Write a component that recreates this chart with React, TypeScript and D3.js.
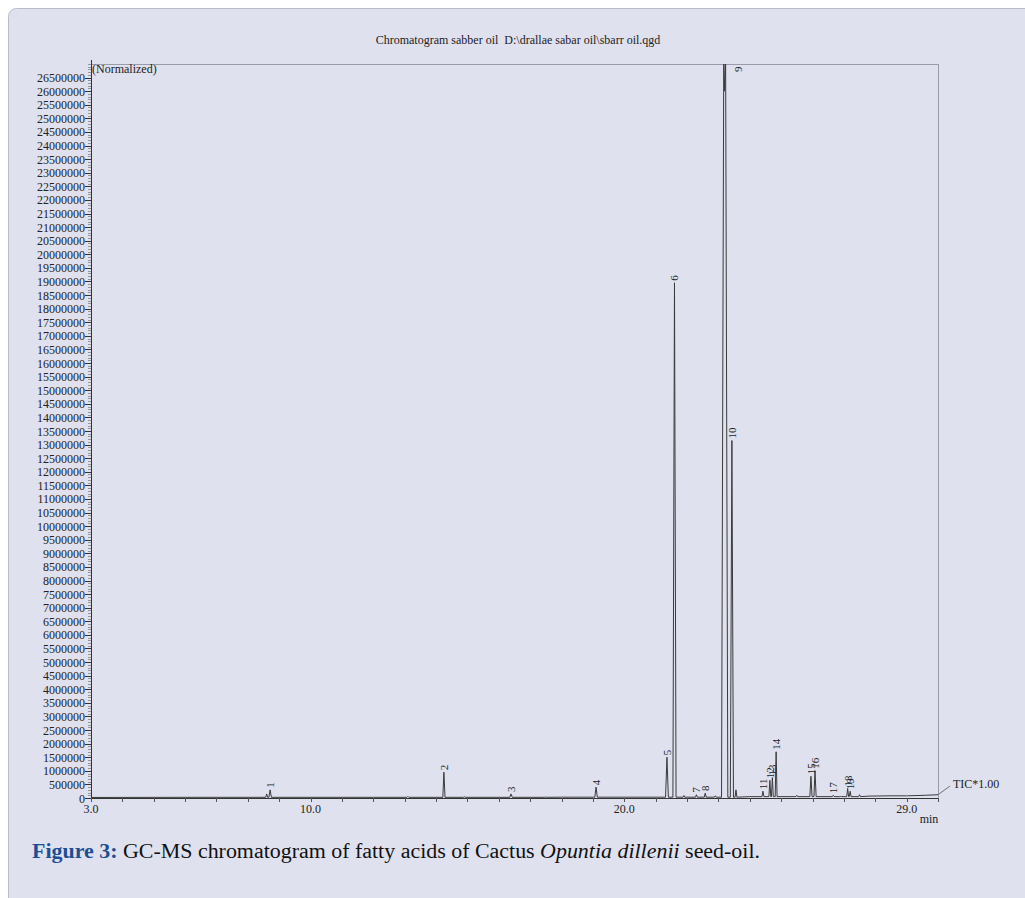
import React from "react";
import * as d3 from "d3";

const peakLabels = ["1","2","3","4","5","6","7","8","9","10","11","12","13","14","15","16","17","18","19"];
const peakTimes = [8.71,14.25,16.39,19.10,21.36,21.60,22.30,22.58,23.20,23.43,24.42,24.64,24.72,24.84,25.95,26.08,26.66,27.12,27.20];
const peakHeights = [300000,950000,150000,400000,1500000,18950000,120000,180000,27200000,13150000,250000,650000,750000,1700000,800000,1000000,100000,350000,250000];
const peakHalfWidths = [0.04,0.035,0.04,0.04,0.045,0.05,0.03,0.03,0.1,0.05,0.03,0.03,0.03,0.03,0.035,0.035,0.03,0.03,0.03];
// minor unlabeled bumps (time, height)
const minorTimes = [8.60,13.1,14.9,17.5,21.9,22.9,23.56,25.5,26.9,27.5,29.0];
const minorHeights = [150000,60000,50000,40000,90000,80000,300000,100000,60000,120000,80000];
const baseTimes = [3.0,6.0,12.0,18.0,24.0,27.8,28.5,29.6,30.0];
const baseValues = [20000,25000,25000,30000,50000,70000,80000,100000,120000];

const yTickValues = d3.range(0, 26500001, 500000);
const xLabelValues = [3.0, 10.0, 20.0, 29.0];
const xTickValues = d3.range(3, 31, 1);

export default function App() {
  const W = 1025, H = 898;
  const left = 91, right = 938, top = 64, bottom = 798;
  const x = d3.scaleLinear().domain([3, 30]).range([left, right]);
  const y = d3.scaleLinear().domain([0, 27000000]).range([bottom, top]);

  const pts: [number, number][] = [];
  baseTimes.forEach((t, i) => pts.push([t, baseValues[i]]));
  const baseAt = (t: number) => {
    const i = d3.bisectLeft(baseTimes, t);
    if (i <= 0) return baseValues[0];
    if (i >= baseTimes.length) return baseValues[baseValues.length - 1];
    return baseValues[i - 1];
  };
  peakTimes.forEach((t, i) => {
    const w = peakHalfWidths[i];
    const b = baseAt(t);
    pts.push([t - w, b]);
    if (i === 8) {
      pts.push([t - 0.03, peakHeights[i]]);
      pts.push([t + 0.0, 26000000]);
      pts.push([t + 0.03, peakHeights[i]]);
    } else {
      pts.push([t, peakHeights[i]]);
    }
    pts.push([t + w, b]);
  });
  minorTimes.forEach((t, i) => {
    const b = baseAt(t);
    pts.push([t - 0.03, b]);
    pts.push([t, minorHeights[i]]);
    pts.push([t + 0.03, b]);
  });
  pts.sort((a, b) => a[0] - b[0]);
  const line = d3.line<[number, number]>().x(d => x(d[0])).y(d => y(d[1]));

  const minorY = d3.range(0, 27000001, 100000);
  const serif = "Liberation Serif, Times New Roman, Times, DejaVu Serif, serif";

  return (
    <div style={{ position: "fixed", left: 0, top: 0 }}>
      <svg width={W} height={H} style={{ display: "block" }}>
        <rect x={0} y={0} width={W} height={H} fill="#ffffff" />
        <rect x={8.5} y={8.5} width={W + 20} height={H + 20} rx={8} fill="#dfe1ef" stroke="#b8bbcb" strokeWidth={1} />
        <text x={518} y={44} textAnchor="middle" style={{ fontFamily: serif }} fontSize={12} fill="#222">
          Chromatogram sabber oil{"\u00a0\u00a0"}D:\drallae sabar oil\sbarr oil.qgd
        </text>
        {/* frame */}
        <line x1={left} x2={right} y1={top + 0.5} y2={top + 0.5} stroke="#9a9cab" strokeWidth={1} />
        <line x1={right + 0.5} x2={right + 0.5} y1={top} y2={bottom} stroke="#9a9cab" strokeWidth={1} />
        {/* y axis */}
        <line x1={left + 0.5} x2={left + 0.5} y1={top - 4} y2={bottom} stroke="#333" strokeWidth={1} />
        {minorY.map(v => (
          <line key={"m" + v} x1={left - 3} x2={left} y1={Math.round(y(v)) + 0.5} y2={Math.round(y(v)) + 0.5} stroke="#777" strokeWidth={0.7} />
        ))}
        {yTickValues.map(v => (
          <g key={"y" + v}>
            <line x1={left - 6} x2={left} y1={Math.round(y(v)) + 0.5} y2={Math.round(y(v)) + 0.5} stroke="#333" strokeWidth={1} />
            <text x={left - 6} y={y(v) + 4.5} textAnchor="end" style={{ fontFamily: serif }} fontSize={12} fill="#222">{v}</text>
          </g>
        ))}
        <text x={left + 1} y={top + 9} style={{ fontFamily: serif }} fontSize={12} fill="#222">(Normalized)</text>
        {/* x axis */}
        <line x1={left} x2={right} y1={bottom + 0.5} y2={bottom + 0.5} stroke="#333" strokeWidth={1} />
        {xTickValues.map(v => (
          <line key={"x" + v} x1={Math.round(x(v)) + 0.5} x2={Math.round(x(v)) + 0.5} y1={bottom} y2={bottom + 4} stroke="#555" strokeWidth={1} />
        ))}
        {xLabelValues.map(v => (
          <text key={"xl" + v} x={x(v)} y={813} textAnchor="middle" style={{ fontFamily: serif }} fontSize={12} fill="#222">{v.toFixed(1)}</text>
        ))}
        <text x={929} y={823} textAnchor="middle" style={{ fontFamily: serif }} fontSize={12} fill="#222">min</text>
        {/* trace */}
        <defs>
          <clipPath id="plotClip">
            <rect x={left} y={top} width={right - left} height={bottom - top + 1} />
          </clipPath>
        </defs>
        <path d={line(pts) || ""} fill="none" stroke="#3a3a3a" strokeWidth={1} clipPath="url(#plotClip)" />
        {/* TIC label */}
        <line x1={right} y1={y(baseValues[baseValues.length - 1])} x2={950} y2={786} stroke="#555" strokeWidth={0.8} />
        <text x={953} y={788} style={{ fontFamily: serif }} fontSize={12} fill="#222">TIC*1.00</text>
        {/* peak labels */}
        {peakTimes.map((t, i) => {
          const clipped = peakHeights[i] > 27000000;
          const px = clipped ? x(t) + 17 : x(t) + 4;
          const py = clipped ? top + 8 : y(peakHeights[i]) - 2;
          return (
            <text key={"pl" + i} transform={`translate(${px},${py}) rotate(-90)`} style={{ fontFamily: serif }} fontSize={11} fill="#222">
              {peakLabels[i]}
            </text>
          );
        })}
        {/* caption */}
        <text x={32} y={858} style={{ fontFamily: serif }} fontSize={20} fill="#111" textLength={728} lengthAdjust="spacingAndGlyphs">
          <tspan fill="#1d4f92" fontWeight="bold">Figure 3:</tspan>
          <tspan> GC-MS chromatogram of fatty acids of Cactus </tspan>
          <tspan fontStyle="italic">Opuntia dillenii</tspan>
          <tspan> seed-oil.</tspan>
        </text>
      </svg>
    </div>
  );
}
